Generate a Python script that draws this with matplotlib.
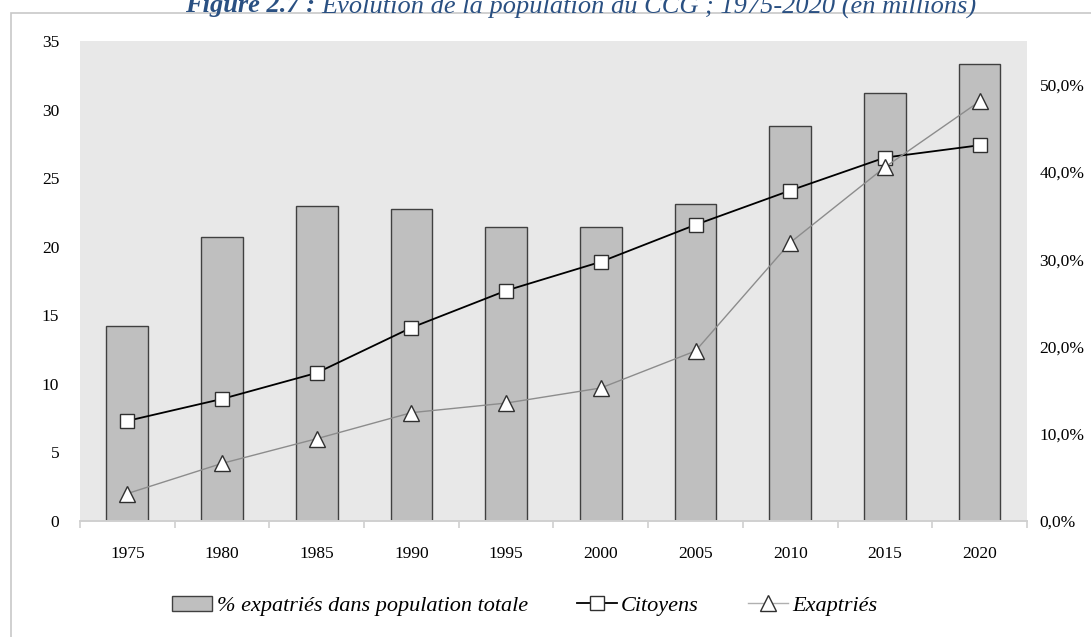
import matplotlib

matplotlib.use("Agg")
import matplotlib.pyplot as plt
from matplotlib.lines import Line2D
from matplotlib.patches import Patch, Rectangle
from matplotlib.ticker import FuncFormatter, MultipleLocator

years = ["1975", "1980", "1985", "1990", "1995", "2000", "2005", "2010", "2015", "2020"]
pct_expats = [22.4, 32.6, 36.1, 35.7, 33.7, 33.7, 36.3, 45.3, 49.0, 52.4]
citoyens = [7.3, 8.9, 10.8, 14.1, 16.8, 18.9, 21.6, 24.1, 26.5, 27.4]
expatries = [2.0, 4.2, 6.0, 7.9, 8.6, 9.7, 12.4, 20.3, 25.8, 30.6]

plt.rcParams["font.family"] = ["Liberation Serif", "DejaVu Serif"]

fig = plt.figure(figsize=(10.91, 6.37), dpi=100)
fig.patches.append(Rectangle((11 / 1091, -0.01), 1.0, 1 - 13 / 637 + 0.01,
                             transform=fig.transFigure, fill=False,
                             edgecolor="#c8c8c8", linewidth=1.2))

ax_pct = fig.add_axes([0.0733, 0.1821, 0.868, 0.7535])
ax = ax_pct.twinx()
ax_pct.set_zorder(0)
ax.set_zorder(1)
ax.patch.set_visible(False)
ax_pct.set_facecolor("#e8e8e8")

x = list(range(len(years)))
ax_pct.bar(x, [v / 100 for v in pct_expats], width=0.44, color="#bfbfbf",
           edgecolor="#404040", linewidth=1.0)

ax.plot(x, citoyens, color="black", linewidth=1.3, marker="s", markersize=10,
        markerfacecolor="white", markeredgecolor="#303030", markeredgewidth=1.0)
ax.plot(x, expatries, color="#8c8c8c", linewidth=1.0, marker="^", markersize=12,
        markerfacecolor="white", markeredgecolor="#303030", markeredgewidth=1.0)

# the percentage axis sits on the right, millions on the left
ax_pct.yaxis.tick_right()
ax.yaxis.tick_left()
ax_pct.set_ylim(0, 0.55)
ax.set_ylim(0, 35)
ax_pct.set_xlim(-0.5, len(years) - 0.5)
ax_pct.yaxis.set_major_locator(MultipleLocator(0.1))
ax_pct.yaxis.set_major_formatter(FuncFormatter(lambda v, _: f"{v * 100:.1f}%".replace(".", ",")))
ax.yaxis.set_major_locator(MultipleLocator(5))

ax_pct.set_xticks(x)
ax_pct.set_xticklabels(years)
ax_pct.set_xticks([i - 0.5 for i in range(len(years) + 1)], minor=True)
ax_pct.tick_params(axis="x", which="major", length=0, pad=18, labelsize=12.5)
ax_pct.tick_params(axis="x", which="minor", length=5, color="#d0d0d0", width=1.2)
ax_pct.tick_params(axis="y", length=0, pad=9, labelsize=12.5)
ax.tick_params(axis="y", length=0, pad=15, labelsize=12.5)

for a in (ax, ax_pct):
    for side in ("top", "right", "left"):
        a.spines[side].set_visible(False)
    a.spines["bottom"].set_color("#d0d0d0")
    a.spines["bottom"].set_linewidth(1.2)

handles = [
    Patch(facecolor="#bfbfbf", edgecolor="#404040", linewidth=1.0),
    Line2D([], [], color="black", linewidth=1.3, marker="s", markersize=10,
           markerfacecolor="white", markeredgecolor="#303030"),
    Line2D([], [], color="#b0b0b0", linewidth=1.0, marker="^", markersize=12,
           markerfacecolor="white", markeredgecolor="#303030"),
]
labels = ["% expatriés dans population totale", "Citoyens", "Exaptriés"]
fig.legend(handles, labels, loc="center", bbox_to_anchor=(0.481, 0.049), ncol=3,
           frameon=False, prop={"style": "italic", "size": 16}, columnspacing=2.2,
           handlelength=1.8, handletextpad=0.2)

# title: bold italic prefix followed by plain italic text, cut at the top edge
title_color = "#2a5082"
head = "Figure 2.7 : "
tail = "Évolution de la population du CCG ; 1975-2020 (en millions)"
renderer = fig.canvas.get_renderer()
probe_head = fig.text(0, 0, head, fontsize=19, style="italic", weight="bold")
probe_tail = fig.text(0, 0, tail, fontsize=19, style="italic")
w_head = probe_head.get_window_extent(renderer).width / fig.bbox.width
w_tail = probe_tail.get_window_extent(renderer).width / fig.bbox.width
probe_head.remove()
probe_tail.remove()
x0 = 0.532 - (w_head + w_tail) / 2
fig.text(x0, 0.981, head, fontsize=19, style="italic", weight="bold",
         color=title_color, va="baseline")
fig.text(x0 + w_head, 0.981, tail, fontsize=19, style="italic",
         color=title_color, va="baseline")

fig.savefig("out.png", dpi=100)
